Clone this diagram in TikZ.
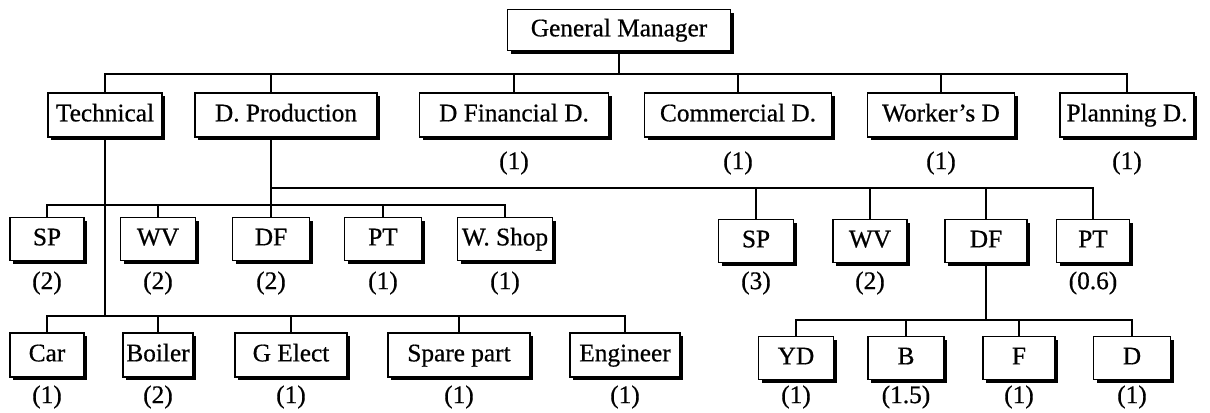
\documentclass[tikz,border=0pt]{standalone}
\usepackage{fontspec}
\setmainfont{Liberation Serif}[BoldFont=Liberation Serif,BoldFeatures={FakeBold=0.6}]
\usetikzlibrary{shadows}

\begin{document}
\begin{tikzpicture}[x=0.025cm,y=-0.025cm,
	box/.style={draw,fill=white,line width=1.3pt,inner sep=1pt,
		font=\fontsize{18}{20}\selectfont\bfseries,
		text height=12.5pt,text depth=3.5pt,
		drop shadow={shadow xshift=2.4pt,shadow yshift=-2.4pt,fill=black,opacity=1}},
	wd/.style={minimum width=#1*0.025cm},
	ht/.style={minimum height=#1*0.025cm},
	num/.style={inner sep=0pt,font=\fontsize{18}{20}\selectfont\bfseries},
	link/.style={line width=1.3pt}]
	\useasboundingbox (0,0) rectangle (1210,413);
	
	% rows of the connecting lines and of the numbers
	\coordinate (b0) at (0,74);
	\coordinate (bR) at (0,188);
	\coordinate (bL) at (0,205);
	\coordinate (bT) at (0,316);
	\coordinate (bD) at (0,320);
	\coordinate (r1) at (0,163);
	\coordinate (r2) at (0,283);
	\coordinate (r3) at (0,397);
	
	\node[box,wd=223,ht=41] (gm) at (619,30) {General Manager};
	
	\node[box,wd=114,ht=44] (tech) at (105,115) {Technical};
	\node[box,wd=182,ht=44] (prod) at (286,115) {D. Production};
	\node[box,wd=189,ht=44] (fin) at (514,115) {D Financial D.};
	\node[box,wd=187,ht=44] (com) at (738,115) {Commercial D.};
	\node[box,wd=147,ht=44] (work) at (941,115) {Worker's D};
	\node[box,wd=134,ht=44] (plan) at (1127,115) {Planning D.};
	
	\node[box,wd=74,ht=43] (spA) at (47,239) {SP};
	\node[box,wd=75,ht=43] (wvA) at (158,239) {WV};
	\node[box,wd=77,ht=43] (dfA) at (271,239) {DF};
	\node[box,wd=77,ht=43] (ptA) at (383,239) {PT};
	\node[box,wd=95,ht=43] (shop) at (505,239) {W. Shop};
	
	\node[box,wd=75,ht=43] (spB) at (756,241) {SP};
	\node[box,wd=74,ht=43] (wvB) at (870,241) {WV};
	\node[box,wd=82,ht=43] (dfB) at (986,241) {DF};
	\node[box,wd=73,ht=43] (ptB) at (1093,241) {PT};
	
	\node[box,wd=74,ht=44] (car) at (47,355) {Car};
	\node[box,wd=70,ht=44] (boiler) at (158,355) {Boiler};
	\node[box,wd=112,ht=44] (gel) at (291,355) {G Elect};
	\node[box,wd=142,ht=44] (spare) at (459,355) {Spare part};
	\node[box,wd=110,ht=44] (eng) at (625,355) {Engineer};
	
	\node[box,wd=75,ht=43] (yd) at (796,358) {YD};
	\node[box,wd=76,ht=43] (bb) at (906,358) {B};
	\node[box,wd=72,ht=43] (ff) at (1019,358) {F};
	\node[box,wd=77,ht=43] (dd) at (1132,358) {D};
	
	% numbers under the boxes
	\node[num] (finN) at (fin |- r1) {(1)};
	\node[num] (comN) at (com |- r1) {(1)};
	\node[num] (workN) at (work |- r1) {(1)};
	\node[num] (planN) at (plan |- r1) {(1)};
	
	\node[num] (spAN) at (spA |- r2) {(2)};
	\node[num] (wvAN) at (wvA |- r2) {(2)};
	\node[num] (dfAN) at (dfA |- r2) {(2)};
	\node[num] (ptAN) at (ptA |- r2) {(1)};
	\node[num] (shopN) at (shop |- r2) {(1)};
	\node[num] (spBN) at (spB |- r2) {(3)};
	\node[num] (wvBN) at (wvB |- r2) {(2)};
	\node[num] (ptBN) at (ptB |- r2) {(0.6)};
	
	\node[num] (carN) at (car |- r3) {(1)};
	\node[num] (boilerN) at (boiler |- r3) {(2)};
	\node[num] (gelN) at (gel |- r3) {(1)};
	\node[num] (spareN) at (spare |- r3) {(1)};
	\node[num] (engN) at (eng |- r3) {(1)};
	\node[num] (ydN) at (yd |- r3) {(1)};
	\node[num] (bbN) at (bb |- r3) {(1.5)};
	\node[num] (ffN) at (ff |- r3) {(1)};
	\node[num] (ddN) at (dd |- r3) {(1)};
	
	% lines
	\draw[link] (gm.south) -- (gm.south |- b0);
	\foreach \n in {tech,fin,com,work,plan}
		\draw[link] (gm.south |- b0) -| (\n.north);
	\draw[link] (gm.south |- b0) -| (dfA |- prod.north);
	\draw[link] (prod.south -| dfA) -- (dfA.north);
	
	\foreach \n in {spB,wvB,dfB,ptB}
		\draw[link] (dfA |- bR) -| (\n.north);
	\foreach \n in {spA,wvA,ptA,shop}
		\draw[link] (dfA |- bL) -| (\n.north);
	
	\draw[link] (tech.south) -- (tech.south |- bT);
	\foreach \n in {car,boiler,gel,spare,eng}
		\draw[link] (tech.south |- bT) -| (\n.north);
	
	\draw[link] (dfB.south) -- (dfB.south |- bD);
	\foreach \n in {yd,bb,ff,dd}
		\draw[link] (dfB.south |- bD) -| (\n.north);
\end{tikzpicture}
\end{document}
